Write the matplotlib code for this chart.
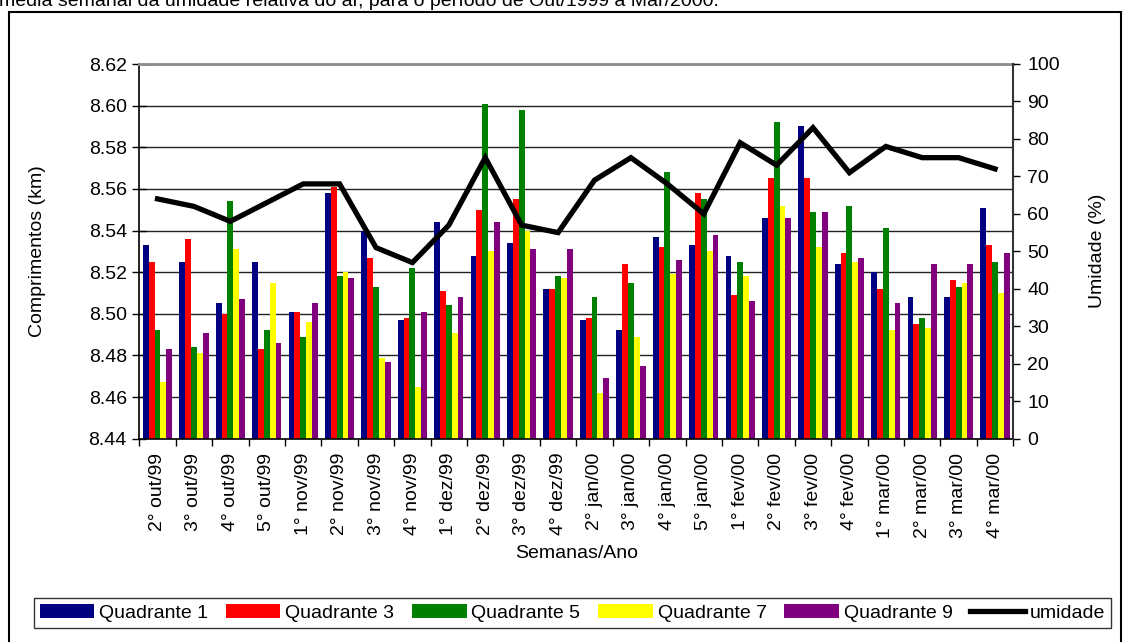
import numpy as np
import matplotlib.pyplot as plt
from matplotlib.patches import Rectangle

plt.rcParams['font.family'] = ['Liberation Sans', 'DejaVu Sans']
plt.rcParams['font.size'] = 14

# semanas (eixo x)
semanas = ["2° out/99", "3° out/99", "4° out/99", "5° out/99",
           "1° nov/99", "2° nov/99", "3° nov/99", "4° nov/99",
           "1° dez/99", "2° dez/99", "3° dez/99", "4° dez/99",
           "2° jan/00", "3° jan/00", "4° jan/00", "5° jan/00",
           "1° fev/00", "2° fev/00", "3° fev/00", "4° fev/00",
           "1° mar/00", "2° mar/00", "3° mar/00", "4° mar/00"]

# comprimentos medidos (km) por quadrante
q1 = [8.533, 8.525, 8.505, 8.525, 8.501, 8.558, 8.540, 8.497, 8.544, 8.528, 8.534, 8.512,
      8.497, 8.492, 8.537, 8.533, 8.528, 8.546, 8.590, 8.524, 8.520, 8.508, 8.508, 8.551]
q3 = [8.525, 8.536, 8.500, 8.483, 8.501, 8.561, 8.527, 8.498, 8.511, 8.550, 8.555, 8.512,
      8.498, 8.524, 8.532, 8.558, 8.509, 8.565, 8.565, 8.529, 8.512, 8.495, 8.516, 8.533]
q5 = [8.492, 8.484, 8.554, 8.492, 8.489, 8.518, 8.513, 8.522, 8.504, 8.601, 8.598, 8.518,
      8.508, 8.515, 8.568, 8.555, 8.525, 8.592, 8.549, 8.552, 8.541, 8.498, 8.513, 8.525]
q7 = [8.467, 8.481, 8.531, 8.515, 8.496, 8.520, 8.479, 8.465, 8.491, 8.530, 8.540, 8.517,
      8.462, 8.489, 8.519, 8.530, 8.518, 8.552, 8.532, 8.525, 8.492, 8.493, 8.515, 8.510]
q9 = [8.483, 8.491, 8.507, 8.486, 8.505, 8.517, 8.477, 8.501, 8.508, 8.544, 8.531, 8.531,
      8.469, 8.475, 8.526, 8.538, 8.506, 8.546, 8.549, 8.527, 8.505, 8.524, 8.524, 8.529]

# umidade relativa media semanal (%)
umidade = [64, 62, 58, 63, 68, 68, 51, 47, 57, 75, 57, 55,
           69, 75, 68, 60, 79, 73, 83, 71, 78, 75, 75, 72]

series = [q1, q3, q5, q7, q9]
nomes = ['Quadrante 1', 'Quadrante 3', 'Quadrante 5', 'Quadrante 7', 'Quadrante 9']
cores = ['#000080', '#FF0000', '#008000', '#FFFF00', '#800080']

W, H = 1123, 642
fig = plt.figure(figsize=(W / 100, H / 100), dpi=100)

# area do grafico em pixels
x0, x1, y0, y1 = 139.3, 1013.3, 64, 438.7
ax = fig.add_axes([x0 / W, 1 - y1 / H, (x1 - x0) / W, (y1 - y0) / H])

x = np.arange(len(semanas))
w = 0.161
for i, (s, c, n) in enumerate(zip(series, cores, nomes)):
    ax.bar(x + (i - 2) * w, s, width=w, color=c, label=n, zorder=2)

ax.set_xlim(-0.5, len(semanas) - 0.5)
ax.set_ylim(8.44, 8.62)
ax.set_yticks(np.arange(8.44, 8.6201, 0.02))
ax.set_yticklabels(['%.2f' % v for v in np.arange(8.44, 8.6201, 0.02)])
ax.yaxis.grid(True, color='#222222', linewidth=1.0, zorder=0)
ax.set_axisbelow(True)

ax.set_xticks(x)
ax.set_xticklabels(semanas, rotation=90, va='top')
ax.set_xticks(np.arange(-0.5, len(semanas), 1.0), minor=True)
ax.tick_params(axis='x', which='major', length=0, pad=10)
ax.tick_params(axis='x', which='minor', length=5, direction='out', width=1)
ax.tick_params(axis='y', length=10, direction='inout', width=1, pad=4)

for lado in ['left', 'bottom']:
    ax.spines[lado].set_color('black')
    ax.spines[lado].set_linewidth(1.2)
ax.spines['top'].set_color('#8c8c8c')
ax.spines['top'].set_linewidth(2)
ax.spines['right'].set_visible(False)

# umidade no eixo secundario
ax2 = ax.twinx()
ax2.plot(x, umidade, color='black', linewidth=3.8, label='umidade',
         solid_joinstyle='miter', zorder=5)
ax2.set_ylim(0, 100)
ax2.set_yticks(np.arange(0, 101, 10))
ax2.tick_params(axis='y', length=5, direction='out', width=1, pad=5)
ax2.spines['right'].set_color('#333333')
ax2.spines['right'].set_linewidth(1.5)
for lado in ['left', 'top', 'bottom']:
    ax2.spines[lado].set_visible(False)

# rotulos
fig.text(576.5 / W, 1 - 553 / H, 'Semanas/Ano', ha='center', va='center')
fig.text(38 / W, 1 - 251 / H, 'Comprimentos (km)', rotation=90, ha='center', va='center')
fig.text(1098 / W, 1 - 251 / H, 'Umidade (%)', rotation=90, ha='center', va='center')

# texto do topo (legenda da figura, cortada)
fig.text(-0.001, 1 - 6 / H,
         'media semanal da umidade relativa do ar, para o período de Out/1999 a Mar/2000.',
         ha='left', va='baseline')

# moldura externa
fig.patches.append(Rectangle((9 / W, -0.05), (1121 - 9) / W, 1.05 - 12 / H,
                             transform=fig.transFigure, fill=False,
                             edgecolor='black', linewidth=1.5))

h1, l1 = ax.get_legend_handles_labels()
h2, l2 = ax2.get_legend_handles_labels()
fig.legend(h1 + h2, l1 + l2, ncol=6, mode='expand',
           bbox_to_anchor=(34 / W, 1 - 630 / H, (1111 - 34) / W, 34 / H),
           loc='center', frameon=True, fancybox=False, edgecolor='black',
           handlelength=2.8, handleheight=0.67, handletextpad=0.25,
           columnspacing=0.6, borderpad=0.3, borderaxespad=0)
fig.legends[0].get_frame().set_linewidth(1.0)

plt.savefig('out.png', dpi=100)
